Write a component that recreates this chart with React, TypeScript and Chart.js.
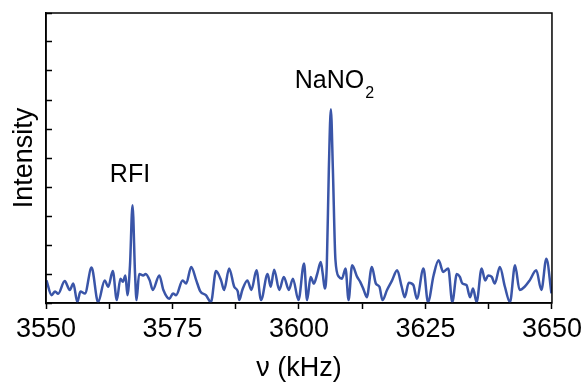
import React, { useEffect, useRef } from 'react';
import { Chart, registerables } from 'chart.js';

Chart.register(...registerables);

const FONT = "'Liberation Sans', Arial, sans-serif";

// Frequency (kHz) of each sampled point of the spectrum
const freqKHz = [
  3550.1, 3551.1, 3551.8, 3552.4, 3553.7, 3554.7, 3555.4, 3556.2, 3556.8, 3557.7,
  3559.0, 3560.3, 3561.6, 3562.3, 3563.2, 3564.0, 3564.7, 3565.2, 3565.7, 3566.1,
  3566.6, 3567.1, 3567.6, 3567.9, 3568.4, 3569.2, 3569.7, 3570.5, 3571.1, 3572.4,
  3573.2, 3574.4, 3575.1, 3575.7, 3577.0, 3577.7, 3578.7, 3579.7, 3580.5, 3581.6,
  3582.6, 3583.6, 3584.6, 3585.2, 3586.2, 3587.2, 3587.9, 3588.2, 3588.8, 3589.8,
  3590.6, 3591.6, 3592.5, 3593.8, 3594.4, 3595.1, 3596.1, 3597.0, 3598.0, 3598.8,
  3599.9, 3601.0, 3601.6, 3602.3, 3602.95, 3603.6, 3604.3, 3604.7, 3605.1, 3605.5,
  3605.9, 3606.3, 3606.7, 3607.2, 3607.9, 3608.5, 3609.2, 3609.8, 3610.5, 3611.5,
  3612.1, 3612.8, 3613.4, 3614.4, 3615.2, 3615.9, 3616.5, 3617.4, 3618.4, 3619.4,
  3620.3, 3620.9, 3621.7, 3622.6, 3623.3, 3624.6, 3625.5, 3626.6, 3627.6, 3628.5,
  3629.5, 3630.3, 3631.2, 3631.8, 3632.3, 3633.1, 3633.8, 3634.4, 3635.1, 3636.1,
  3636.8, 3637.4, 3638.1, 3638.7, 3639.7, 3640.7, 3641.7, 3642.7, 3643.6, 3644.6,
  3645.6, 3646.9, 3647.9, 3648.9, 3649.9,
];

// Intensity (arbitrary units) at each frequency
const intensity = [
  0.78, 0.27, 0.4, 0.32, 0.76, 0.45, 0.67, 0.03, 0.4, 0.33,
  1.22, 0.03, 0.78, 0.56, 1.1, 0.1, 0.84, 0.73, 0.95, 0.27,
  1.3, 3.37, 1.0, 0.1, 1.0, 0.95, 1.0, 0.78, 0.45, 0.95,
  0.45, 0.15, 0.33, 0.27, 0.78, 0.67, 1.24, 0.78, 0.4, 0.27,
  0.03, 1.1, 0.78, 0.45, 1.19, 0.56, 0.4, 0.1, 0.45, 0.78,
  0.45, 1.13, 0.1, 1.0, 0.56, 1.15, 0.45, 0.9, 0.45, 0.84,
  0.1, 1.36, 0.1, 0.9, 0.67, 1.0, 1.41, 1.0, 0.5, 1.3,
  4.6, 6.68, 4.6, 1.5, 0.9, 0.84, 1.19, 0.1, 1.3, 0.9,
  0.73, 0.45, 0.2, 1.24, 0.67, 0.56, 0.1, 0.45, 0.78, 1.13,
  0.56, 0.2, 0.7, 0.62, 0.15, 1.19, 0.03, 0.95, 1.47, 1.07,
  1.19, 0.03, 1.0, 0.9, 0.67, 0.62, 0.2, 0.5, 0.03, 1.19,
  0.78, 0.95, 0.9, 0.67, 1.24, 0.56, 0.03, 1.3, 0.45, 0.56,
  0.78, 1.13, 0.45, 1.53, 0.33,
];

// Axis ranges / ticks
const xMin = 3550;
const xMax = 3650;
const xStep = 12.5;
const xLabelEvery = 25;
const yMin = 0;
const yMax = 10;
const yStep = 1;

// Peak annotations: [text, subscript, x (kHz), y (intensity)]
const peakLabels: [string, string, number, number][] = [
  ['RFI', '', 3566.6, 4.16],
  ['NaNO', '2', 3607.0, 7.43],
];

const boxPlugin = {
  id: 'box',
  afterDraw(chart: any) {
    const { ctx, chartArea } = chart;
    ctx.save();
    ctx.strokeStyle = '#000';
    ctx.lineWidth = 1.5;
    ctx.strokeRect(chartArea.left, chartArea.top, chartArea.right - chartArea.left, chartArea.bottom - chartArea.top);
    ctx.restore();
  },
};

const labelPlugin = {
  id: 'peakLabels',
  afterDatasetsDraw(chart: any) {
    const { ctx } = chart;
    const xs = chart.scales.x;
    const ys = chart.scales.y;
    ctx.save();
    ctx.fillStyle = '#000';
    ctx.textBaseline = 'alphabetic';
    for (const [txt, sub, xv, yv] of peakLabels) {
      const cx = xs.getPixelForValue(xv);
      const by = ys.getPixelForValue(yv);
      ctx.font = `25px ${FONT}`;
      const w1 = ctx.measureText(txt).width;
      ctx.font = `16px ${FONT}`;
      const w2 = sub ? ctx.measureText(sub).width + 1 : 0;
      const left = cx - (w1 + w2) / 2;
      ctx.font = `25px ${FONT}`;
      ctx.textAlign = 'left';
      ctx.fillText(txt, left, by);
      if (sub) {
        ctx.font = `16px ${FONT}`;
        ctx.fillText(sub, left + w1 + 1, by + 10);
      }
    }
    ctx.restore();
  },
};

export default function App() {
  const ref = useRef<HTMLCanvasElement | null>(null);

  useEffect(() => {
    if (!ref.current) return;
    const points = freqKHz.map((f, i) => ({ x: f, y: intensity[i] }));
    const chart = new Chart(ref.current, {
      type: 'line',
      data: {
        datasets: [
          {
            data: points,
            borderColor: '#3a55a8',
            borderWidth: 2.5,
            pointRadius: 0,
            fill: false,
            cubicInterpolationMode: 'monotone',
          },
        ],
      },
      options: {
        animation: false,
        responsive: false,
        events: [],
        layout: { padding: { top: 13, right: 32, left: 0, bottom: 0 } },
        plugins: { legend: { display: false }, tooltip: { enabled: false } },
        scales: {
          x: {
            type: 'linear',
            min: xMin,
            max: xMax,
            ticks: {
              stepSize: xStep,
              autoSkip: false,
              maxRotation: 0,
              color: '#000',
              padding: 4,
              font: { size: 27, family: FONT },
              callback: (v: any) => (Number(v) % xLabelEvery === 0 ? String(v) : ''),
            },
            grid: { drawOnChartArea: false, drawTicks: true, tickLength: 6, tickColor: '#000', tickWidth: 1.5 },
            border: { display: true, color: '#000', width: 1.5 },
            title: {
              display: true,
              text: 'ν (kHz)',
              color: '#000',
              font: { size: 27, family: FONT },
              padding: { top: 0, bottom: -2 },
            },
            afterFit: (s: any) => {
              s.height = 80;
            },
          },
          y: {
            min: yMin,
            max: yMax,
            ticks: { stepSize: yStep, display: false },
            grid: { drawOnChartArea: false, drawTicks: true, tickLength: -6, tickColor: '#000', tickWidth: 1.5 },
            border: { display: true, color: '#000', width: 1.5 },
            title: {
              display: true,
              text: 'Intensity',
              color: '#000',
              font: { size: 27, family: FONT },
              padding: { top: 8, bottom: 0 },
            },
            afterFit: (s: any) => {
              s.width = 46;
            },
          },
        },
      },
      plugins: [boxPlugin, labelPlugin],
    } as any);
    return () => chart.destroy();
  }, []);

  return (
    <div style={{ position: 'absolute', left: 0, top: 0, width: 586, height: 383, background: '#fff' }}>
      <canvas ref={ref} width={586} height={383} style={{ display: 'block' }} />
    </div>
  );
}
